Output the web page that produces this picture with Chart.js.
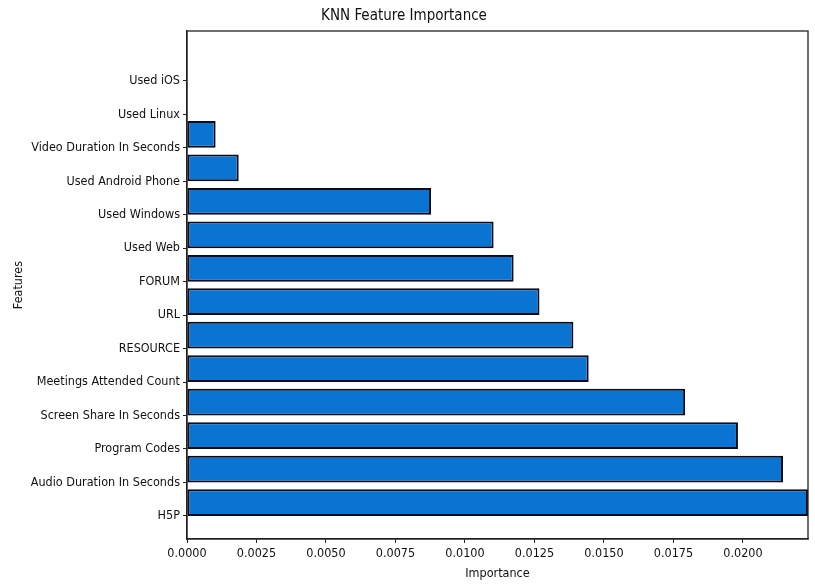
<!DOCTYPE html>
<html>
<head>
<meta charset="utf-8">
<script src="https://cdn.jsdelivr.net/npm/chart.js@4"></script>
<style>
  html, body { margin: 0; padding: 0; background: #ffffff; }
  #wrap { width: 815px; height: 585px; position: relative; }
</style>
</head>
<body>
<div id="wrap"><canvas id="chart"></canvas></div>
<script>
// Features, listed from the bottom row (index 0) to the top row
const features = [
  "H5P",
  "Audio Duration In Seconds",
  "Program Codes",
  "Screen Share In Seconds",
  "Meetings Attended Count",
  "RESOURCE",
  "URL",
  "FORUM",
  "Used Web",
  "Used Windows",
  "Used Android Phone",
  "Video Duration In Seconds",
  "Used Linux",
  "Used iOS"
];

// Importance score for each feature (same order as above)
const importance = [
  0.02234, 0.02144, 0.01982, 0.01792, 0.01445, 0.01390, 0.01268,
  0.01175, 0.01103, 0.00878, 0.00186, 0.00103, 0.0, 0.0
];

// X-axis tick values
const xTicks = [0, 0.0025, 0.005, 0.0075, 0.01, 0.0125, 0.015, 0.0175, 0.02];

// Bars are edge-aligned: each bar sits just above its tick, spanning 0.8 of a row
const BAR_HEIGHT = 0.8;
const points = importance.map((v, i) => ({ x: v, y: i + BAR_HEIGHT / 2 }));

const FONT = "'DejaVu Sans Condensed', 'DejaVu Sans', sans-serif";
const INK = '#111111';

// Frame around the plotting area
const frame = {
  id: 'frame',
  afterDraw(chart) {
    const { ctx, chartArea: a } = chart;
    ctx.save();
    ctx.strokeStyle = '#222';
    ctx.lineWidth = 1.3;
    ctx.strokeRect(a.left, a.top, a.right - a.left, a.bottom - a.top);
    ctx.restore();
  }
};

new Chart(document.getElementById('chart'), {
  type: 'bar',
  data: {
    datasets: [{
      data: points,
      backgroundColor: '#0a74d2',
      borderColor: '#0a0a18',
      borderWidth: 2,
      borderSkipped: false,
      barPercentage: BAR_HEIGHT,
      categoryPercentage: 1.0
    }]
  },
  plugins: [frame],
  options: {
    indexAxis: 'y',
    responsive: true,
    maintainAspectRatio: false,
    animation: false,
    layout: { padding: { left: 0, right: 7, top: 0, bottom: 0 } },
    plugins: {
      legend: { display: false },
      tooltip: { enabled: false },
      title: {
        display: true,
        text: 'KNN Feature Importance',
        color: INK,
        font: { family: FONT, size: 15, weight: 'normal' },
        padding: { top: 7, bottom: 6 }
      }
    },
    scales: {
      x: {
        type: 'linear',
        min: 0,
        max: importance[0],
        afterBuildTicks(scale) {
          scale.ticks = xTicks.map(v => ({ value: v }));
        },
        afterFit(scale) { scale.height = 46; },
        ticks: {
          color: INK,
          font: { family: FONT, size: 12.5 },
          padding: 3,
          maxRotation: 0,
          autoSkip: false,
          callback: v => Number(v).toFixed(4)
        },
        grid: {
          drawOnChartArea: false,
          drawTicks: true,
          tickLength: 4,
          color: '#222',
          lineWidth: 1
        },
        border: { display: true, color: '#222', width: 1.3 },
        title: {
          display: true,
          text: 'Importance',
          color: INK,
          font: { family: FONT, size: 12.5 },
          padding: { top: 0, bottom: 4 }
        }
      },
      y: {
        type: 'linear',
        offset: false,
        min: -0.69,
        max: features.length - 1 + BAR_HEIGHT + 0.69,
        afterBuildTicks(scale) {
          scale.ticks = features.map((_, i) => ({ value: i }));
        },
        afterFit(scale) { scale.width = 187; },
        ticks: {
          color: INK,
          font: { family: FONT, size: 12.5 },
          padding: 3,
          autoSkip: false,
          callback: v => features[v] ?? ''
        },
        grid: {
          offset: false,
          drawOnChartArea: false,
          drawTicks: true,
          tickLength: 4,
          color: '#222',
          lineWidth: 1
        },
        border: { display: true, color: '#222', width: 1.3 },
        title: {
          display: true,
          text: 'Features',
          color: INK,
          font: { family: FONT, size: 12.5 },
          padding: { top: 11, bottom: 0 }
        }
      }
    }
  }
});
</script>
</body>
</html>
